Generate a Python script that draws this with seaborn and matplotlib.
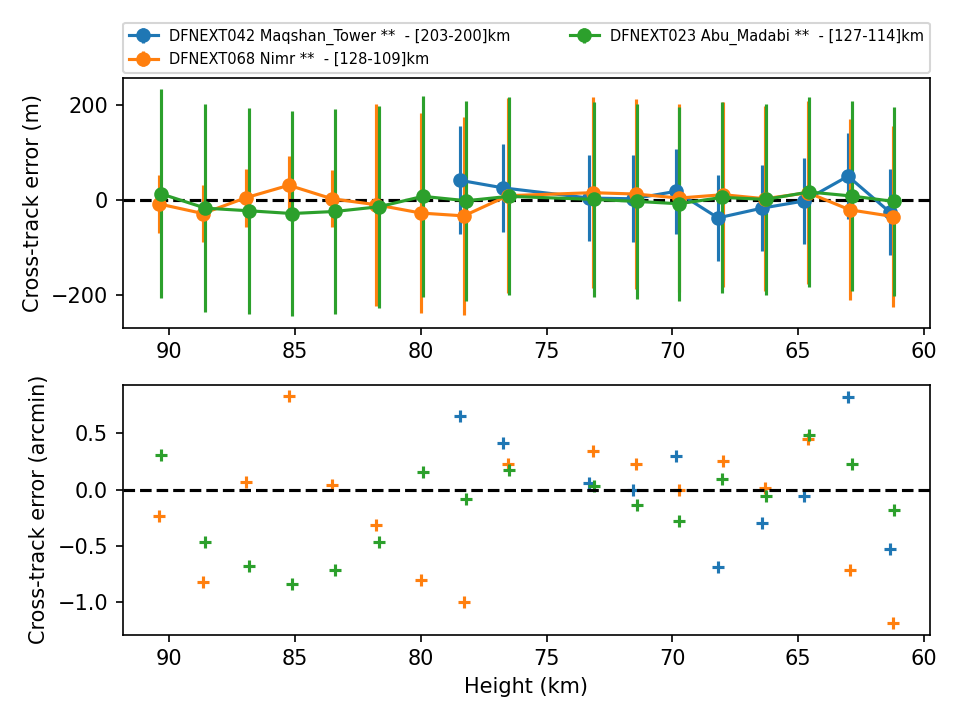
import matplotlib
matplotlib.use("Agg")
import matplotlib.pyplot as plt
import seaborn as sns
import numpy as np
import pandas as pd

labels = ["DFNEXT042 Maqshan_Tower **  - [203-200]km",
          "DFNEXT068 Nimr **  - [128-109]km",
          "DFNEXT023 Abu_Madabi **  - [127-114]km"]
colors = ["#1f77b4", "#ff7f0e", "#2ca02c"]
top_yticks = [-200, 0, 200]

h_blue = [78.46, 76.74, 73.31, 71.56, 69.85, 68.18, 66.43, 64.77, 63.01, 61.35]
m_blue = [41, 25, 3.5, 2, 17.7, -38.2, -17.7, -2.8, 49.5, -26]
e_blue = [114, 93, 91, 91, 90, 90, 90, 91, 91, 91]
a_blue = [0.657, 0.412, 0.060, 0.0, 0.296, -0.690, -0.296, -0.054, 0.827, -0.528]

h_orange = [90.40, 88.67, 86.96, 85.25, 83.54, 81.77, 80.00, 78.29, 76.54,
            73.17, 71.46, 69.73, 67.98, 66.32, 64.60, 62.94, 61.22]
m_orange = [-9, -29, 4.2, 30.4, 2.1, -10.6, -28, -34, 8.5,
            14.8, 12, 3.5, 10.6, 2.1, 14.8, -21.2, -35.3]
e_orange = [60, 60, 61, 61, 60, 212, 210, 208, 205,
            201, 199, 198, 195, 195, 193, 190, 191]
a_orange = [-0.233, -0.824, 0.063, 0.833, 0.042, -0.313, -0.803, -1.003, 0.227,
            0.340, 0.227, 0.0, 0.251, 0.015, 0.454, -0.716, -1.191]

h_green = [90.35, 88.57, 86.82, 85.13, 83.42, 81.67, 79.92, 78.19, 76.50,
           73.13, 71.42, 69.73, 68.02, 66.28, 64.56, 62.86, 61.20]
m_green = [12.7, -17.7, -23.3, -29, -24.7, -14.8, 7.1, -2.1, 7.1,
           0.7, -3.5, -8.5, 4.9, 0.7, 16.3, 7.8, -3.5]
e_green = [220, 219, 217, 216, 215, 212, 211, 210, 208,
           205, 205, 204, 201, 200, 199, 199, 198]
a_green = [0.307, -0.466, -0.681, -0.842, -0.716, -0.466, 0.155, -0.081, 0.170,
           0.036, -0.134, -0.278, 0.090, -0.054, 0.484, 0.227, -0.179]

series = [(h_blue, m_blue, e_blue, a_blue),
          (h_orange, m_orange, e_orange, a_orange),
          (h_green, m_green, e_green, a_green)]

fig, (ax1, ax2) = plt.subplots(2, 1, figsize=(6.4, 4.8), dpi=150)

for (h, m, e, a), lab, c in zip(series, labels, colors):
    ax1.errorbar(h, m, yerr=e, fmt='o-', color=c, label=lab)
    df = pd.DataFrame({"h": h, "a": a})
    sns.scatterplot(data=df, x="h", y="a", ax=ax2, marker='+', color=c,
                    s=36, linewidth=1.5, legend=False)

ax1.axhline(0, color='k', ls='--')
ax2.axhline(0, color='k', ls='--')

for ax in (ax1, ax2):
    ax.invert_xaxis()

ax1.set_yticks(top_yticks)
ax1.set_ylabel("Cross-track error (m)")
ax2.set_ylabel("Cross-track error (arcmin)")
ax2.set_xlabel("Height (km)")
ax1.set_xlabel("")

ax1.legend(bbox_to_anchor=(0, 1.02, 1, 0.102), loc='lower left', mode='expand',
           ncol=2, borderaxespad=0, fontsize=7)

fig.tight_layout()
fig.savefig("out.png", dpi=150)
